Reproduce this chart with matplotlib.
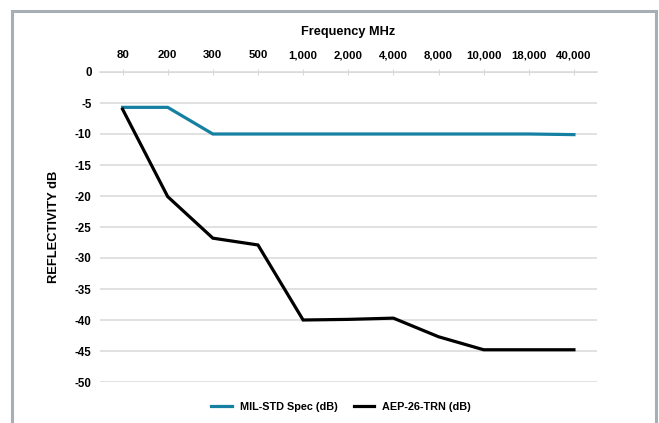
import matplotlib
matplotlib.use("Agg")
import matplotlib.pyplot as plt
from matplotlib.patches import Rectangle
from matplotlib.lines import Line2D
import numpy as np

categories = ["80", "200", "300", "500", "1,000", "2,000", "4,000", "8,000", "10,000", "18,000", "40,000"]
mil_std = [-5.7, -5.7, -10, -10, -10, -10, -10, -10, -10, -10, -10.1]
aep_26 = [-6.0, -20.1, -26.8, -27.9, -40.0, -39.9, -39.7, -42.7, -44.8, -44.8, -44.8]
y_ticks = [0, -5, -10, -15, -20, -25, -30, -35, -40, -45, -50]

FONT = ['Liberation Sans Narrow', 'Liberation Sans', 'DejaVu Sans']
BLUE = '#1580a2'
GRID = '#d9d9d9'

W, H = 659, 423
fig = plt.figure(figsize=(W / 100, H / 100), dpi=100)

fig.patches.append(Rectangle((11.5 / W, -0.05), (656 - 11.5) / W, 1.05 - 11 / H,
                             transform=fig.transFigure, fill=False,
                             edgecolor='#a7afb4', linewidth=2.2, zorder=0))

left, right = 100 / W, 596.5 / W
top, bottom = 1 - 72 / H, 1 - 382 / H
ax = fig.add_axes([left, bottom, right - left, top - bottom])

x = np.arange(len(categories))
ax.plot(x, mil_std, color=BLUE, lw=2.3, solid_joinstyle='miter', zorder=3, clip_on=False)
ax.plot(x, aep_26, color='black', lw=2.3, solid_joinstyle='miter', zorder=3, clip_on=False)

ax.set_xlim(-0.5, len(categories) - 0.5)
ax.set_ylim(-50, 0)
ax.set_yticks(y_ticks)
ax.set_yticklabels([str(v) for v in y_ticks], fontfamily=FONT, fontweight='bold', fontsize=8.3)
ax.yaxis.grid(True, color=GRID, lw=1.1)
ax.set_axisbelow(True)

ax.xaxis.tick_top()
ax.set_xticks(x)
ax.set_xticklabels(categories, fontfamily=FONT, fontweight='bold', fontsize=8.2)
ax.tick_params(axis='x', which='both', direction='inout', length=5, width=0.8, color=GRID, pad=6)
ax.tick_params(axis='y', length=0, pad=6)

for s in ['left', 'right', 'bottom']:
    ax.spines[s].set_visible(False)
ax.spines['top'].set_color(GRID)
ax.spines['top'].set_linewidth(1.1)

ax.set_title('Frequency MHz', fontfamily=['Liberation Sans', 'DejaVu Sans'], fontweight='bold',
             fontsize=9.2, pad=27)
ax.set_ylabel('REFLECTIVITY dB', fontfamily=['Liberation Sans', 'DejaVu Sans'], fontweight='bold',
              fontsize=9.3, labelpad=11)

handles = [Line2D([], [], color=BLUE, lw=2.3), Line2D([], [], color='black', lw=2.3)]
fig.legend(handles, ['MIL-STD Spec (dB)', 'AEP-26-TRN (dB)'], loc='center',
           bbox_to_anchor=(341 / W, 1 - 407 / H), ncol=2, frameon=False,
           prop={'family': FONT, 'weight': 'bold', 'size': 7.8},
           handlelength=1.9, handletextpad=0.7, columnspacing=1.5)

fig.savefig('out.png', dpi=100, facecolor='white')
